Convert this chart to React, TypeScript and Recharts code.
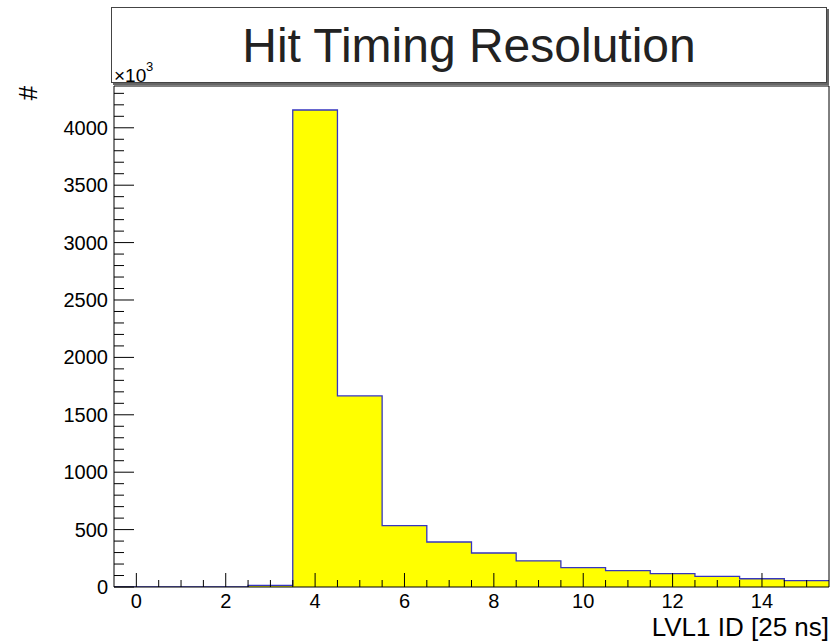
import React from 'react';
import { ComposedChart, Area, XAxis, YAxis } from 'recharts';

// bin centres of the histogram (LVL1 ID, in units of 25 ns)
const bins = [0, 1, 2, 3, 4, 5, 6, 7, 8, 9, 10, 11, 12, 13, 14, 15];
// entries per bin, in units of 10^3
const counts = [0, 0, 0, 15, 4155, 1664, 535, 392, 296, 228, 168, 142, 117, 92, 72, 55];

const xLabels = [0, 2, 4, 6, 8, 10, 12, 14];
const yLabels = [0, 500, 1000, 1500, 2000, 2500, 3000, 3500, 4000];

const FONT = '"Liberation Sans", Arial, Helvetica, sans-serif';

// step outline: one point per left bin edge, plus the last right edge
const stepData = bins.map((b, i) => ({ x: b - 0.5, y: counts[i] }));
stepData.push({ x: bins[bins.length - 1] + 0.5, y: counts[counts.length - 1] });

const xTicks: number[] = [];
for (let v = 0; v <= 15.01; v += 0.5) xTicks.push(v);
const yTicks: number[] = [];
for (let v = 0; v <= 4300; v += 100) yTicks.push(v);

function XTick({ x, y, payload }: any) {
  const v = payload.value;
  const major = xLabels.includes(v);
  return (
    <g>
      <line x1={x} x2={x} y1={y} y2={y - (major ? 14 : 7)} stroke="#000" strokeWidth={1} />
      {major && (
        <text x={x} y={y + 21} textAnchor="middle" fontSize={20} fontFamily={FONT} fill="#000">
          {v}
        </text>
      )}
    </g>
  );
}

function YTick({ x, y, payload }: any) {
  const v = payload.value;
  const major = yLabels.includes(v);
  return (
    <g>
      <line x1={x} x2={x + (major ? 20 : 10)} y1={y} y2={y} stroke="#000" strokeWidth={1} />
      {major && (
        <text x={x - 6} y={y + 7} textAnchor="end" fontSize={20} fontFamily={FONT} fill="#000">
          {v}
        </text>
      )}
    </g>
  );
}

export default function App() {
  return (
    <div style={{ position: 'absolute', left: 0, top: 0, width: 831, height: 641, background: '#fff', fontFamily: FONT }}>
      <ComposedChart
        width={831}
        height={641}
        data={stepData}
        margin={{ top: 85, right: 1, bottom: 53, left: 113 }}
      >
        <XAxis
          dataKey="x"
          type="number"
          domain={[-0.5, 15.5]}
          ticks={xTicks}
          interval={0}
          height={1}
          tickSize={0}
          tickMargin={0}
          tickLine={false}
          axisLine={{ stroke: '#000', strokeWidth: 1 }}
          tick={<XTick />}
          allowDataOverflow
        />
        <XAxis xAxisId="top" orientation="top" type="number" domain={[-0.5, 15.5]} height={1} tick={false} tickLine={false} axisLine={{ stroke: '#000' }} />
        <YAxis
          type="number"
          domain={[0, 4364]}
          ticks={yTicks}
          interval={0}
          width={1}
          tickSize={0}
          tickMargin={0}
          tickLine={false}
          axisLine={{ stroke: '#000', strokeWidth: 1 }}
          tick={<YTick />}
          allowDataOverflow
        />
        <YAxis yAxisId="right" orientation="right" type="number" domain={[0, 4364]} width={1} tick={false} tickLine={false} axisLine={{ stroke: '#000' }} />
        <Area
          dataKey="y"
          type="stepAfter"
          fill="#ffff00"
          fillOpacity={1}
          stroke="#3535c0"
          strokeWidth={1.3}
          isAnimationActive={false}
          dot={false}
          activeDot={false}
        />
      </ComposedChart>

      {/* title pave */}
      <div
        style={{
          position: 'absolute', left: 111, top: 7, width: 714, height: 74,
          border: '1px solid #444', boxShadow: '2px 2px 0 #666', background: '#fff',
        }}
      />
      <svg width={831} height={641} style={{ position: 'absolute', left: 0, top: 0, pointerEvents: 'none' }}>
        <text x={469} y={62} textAnchor="middle" fontSize={48} fontFamily={FONT} fill="#222">
          Hit Timing Resolution
        </text>
        <text x={114} y={82} fontSize={19} fontFamily={FONT} fill="#000">×10</text>
        <text x={146} y={71} fontSize={13} fontFamily={FONT} fill="#000">3</text>
        <text x={829} y={636} textAnchor="end" fontSize={26} fontFamily={FONT} fill="#000">
          LVL1 ID [25 ns]
        </text>
        <text x={28} y={93} textAnchor="middle" fontSize={26} fontFamily={FONT} fill="#000" transform="rotate(-90 28 93)" dominantBaseline="central">
          #
        </text>
      </svg>
    </div>
  );
}
